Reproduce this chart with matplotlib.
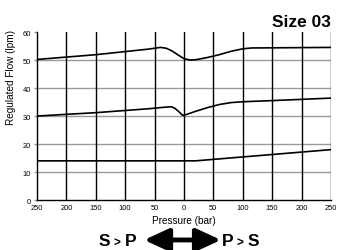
import matplotlib
matplotlib.use("Agg")
import matplotlib.pyplot as plt
from matplotlib.patches import FancyArrowPatch

plt.rcParams['font.family'] = ['Liberation Sans', 'DejaVu Sans']

# Data (pressure in bar; negative = S>P side)
top_x = [-250, -150, -60, -40, -30, -20, -10, 0, 10, 20, 40, 60, 80, 100, 115, 250]
top_y = [50.2, 51.9, 53.9, 54.5, 54.2, 53.2, 51.8, 50.5, 50.0, 50.1, 50.9, 51.9, 53.1, 54.0, 54.3, 54.5]

mid_x = [-250, -150, -60, -30, -21, -15, -8, -2, 5, 20, 40, 60, 80, 100, 150, 250]
mid_y = [30.0, 31.2, 32.6, 33.2, 33.3, 32.7, 31.4, 30.2, 30.6, 31.7, 33.0, 34.1, 34.8, 35.1, 35.5, 36.4]

bot_x = [-250, 20, 250]
bot_y = [14.0, 14.0, 18.0]

xticks = [-250, -200, -150, -100, -50, 0, 50, 100, 150, 200, 250]
xticklabels = ['250', '200', '150', '100', '50', '0', '50', '100', '150', '200', '250']
yticks = [0, 10, 20, 30, 40, 50, 60]

fig = plt.figure(figsize=(3.38, 2.51), dpi=100)
ax = fig.add_axes([0.1095, 0.199, 0.8695, 0.6695])

for y in yticks[1:6]:
    ax.axhline(y, color='#9a9a9a', lw=1.0, zorder=1)
for x in xticks[1:]:
    ax.axvline(x, color='black', lw=1.0, zorder=2)

for xs, ys in [(top_x, top_y), (mid_x, mid_y), (bot_x, bot_y)]:
    ax.plot(xs, ys, color='black', lw=1.2, zorder=3)

ax.set_xlim(-250, 250)
ax.set_ylim(0, 60)
ax.set_xticks(xticks)
ax.set_xticklabels(xticklabels)
ax.set_yticks(yticks)
ax.tick_params(axis='x', length=0, labelsize=5.4, pad=2.5)
ax.tick_params(axis='y', length=2, width=1.0, color='#9a9a9a', labelsize=5.4, pad=2.5)
for s in ['top', 'right']:
    ax.spines[s].set_visible(False)
for s in ['left', 'bottom']:
    ax.spines[s].set_linewidth(1.0)

ax.set_ylabel('Regulated Flow (lpm)', fontsize=7.2)
ax.yaxis.set_label_coords(-0.073, 0.735)
ax.set_xlabel('Pressure (bar)', fontsize=7.2, labelpad=3)

fig.text(0.978, 0.893, 'Size 03', ha='right', va='baseline', fontsize=12.5, fontweight='bold')

# bottom direction labels
by = 0.018
fig.text(0.292, by, 'S', ha='left', va='baseline', fontsize=12.5, fontweight='bold')
fig.text(0.337, by, '>', ha='left', va='baseline', fontsize=8.5, fontweight='bold')
fig.text(0.368, by, 'P', ha='left', va='baseline', fontsize=12.5, fontweight='bold')
fig.text(0.655, by, 'P', ha='left', va='baseline', fontsize=12.5, fontweight='bold')
fig.text(0.700, by, '>', ha='left', va='baseline', fontsize=8.5, fontweight='bold')
fig.text(0.732, by, 'S', ha='left', va='baseline', fontsize=12.5, fontweight='bold')

arr = FancyArrowPatch((0.418, 0.040), (0.662, 0.040), transform=fig.transFigure,
                      arrowstyle='<|-|>,head_length=5,head_width=2.3', mutation_scale=3,
                      lw=3.5, color='black')
fig.patches.append(arr)

fig.savefig('out.png', dpi=100)
